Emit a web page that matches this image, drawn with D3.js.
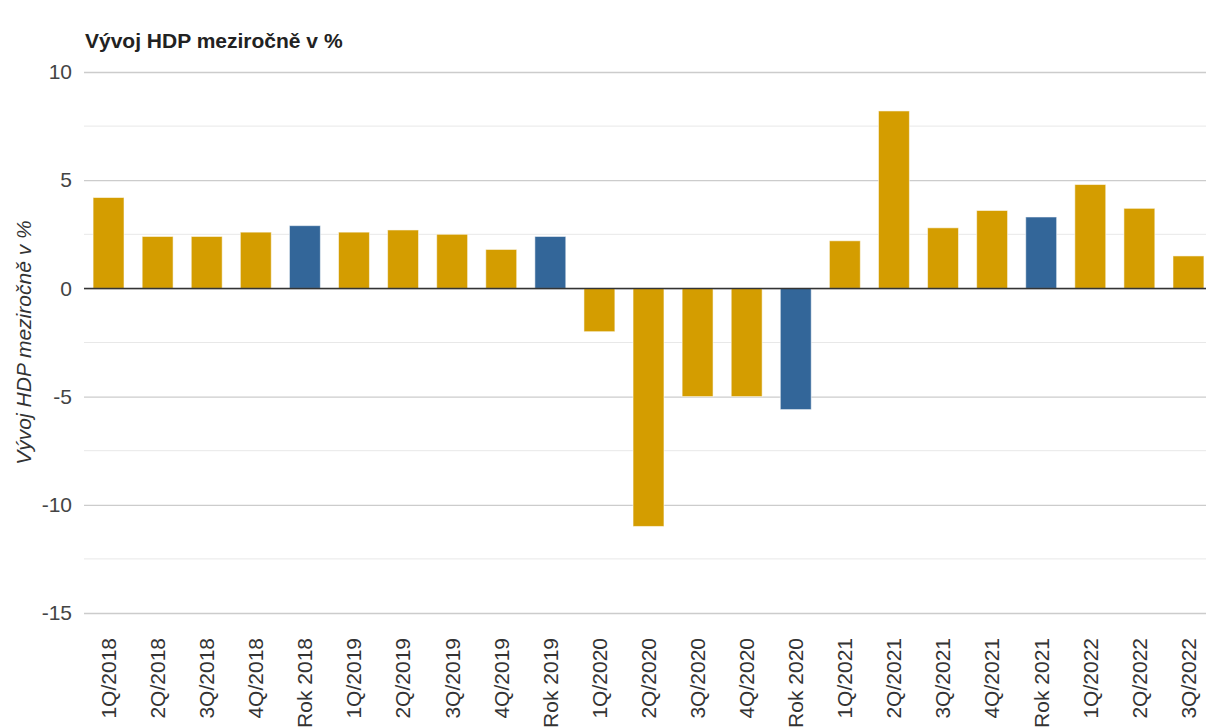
<!DOCTYPE html>
<html>
<head>
<meta charset="utf-8">
<script src="https://cdn.jsdelivr.net/npm/d3@7"></script>
<style>
  body { margin: 0; background: #fff; }
  text { font-family: "Liberation Sans", Arial, sans-serif; }
</style>
</head>
<body>
<div id="chart"></div>
<script>
// data
const categories = ["1Q/2018", "2Q/2018", "3Q/2018", "4Q/2018", "Rok 2018",
    "1Q/2019", "2Q/2019", "3Q/2019", "4Q/2019", "Rok 2019",
    "1Q/2020", "2Q/2020", "3Q/2020", "4Q/2020", "Rok 2020",
    "1Q/2021", "2Q/2021", "3Q/2021", "4Q/2021", "Rok 2021",
    "1Q/2022", "2Q/2022", "3Q/2022"];
const values = [4.2, 2.4, 2.4, 2.6, 2.9,
    2.6, 2.7, 2.5, 1.8, 2.4,
    -2.0, -11.0, -5.0, -5.0, -5.6,
    2.2, 8.2, 2.8, 3.6, 3.3,
    4.8, 3.7, 1.5];
const majorTicks = [10, 5, 0, -5, -10, -15];
const minorTicks = [7.5, 2.5, -2.5, -7.5, -12.5];
const titleText = "Vývoj HDP meziročně v %";

const width = 1206, height = 728;
const margin = {top: 72, left: 84};
const plotBottom = 613;

const svg = d3.select("#chart").append("svg")
    .attr("width", width)
    .attr("height", height);

const x = d3.scaleBand()
    .domain(categories)
    .range([margin.left, 1213])
    .paddingInner(0.37)
    .paddingOuter(0.185);

const y = d3.scaleLinear()
    .domain([-15, 10])
    .range([plotBottom, margin.top]);

// minor grid
svg.append("g").selectAll("line")
    .data(minorTicks)
    .join("line")
    .attr("x1", margin.left).attr("x2", width)
    .attr("y1", d => y(d)).attr("y2", d => y(d))
    .attr("stroke", "#e8e8e8")
    .attr("stroke-width", 1);

// major grid + labels (plain hyphen for negatives, like the original)
const yAxis = d3.axisLeft(y).tickValues(majorTicks)
    .tickFormat(d => String(d))
    .tickSize(0).tickPadding(12);
const yg = svg.append("g")
    .attr("transform", `translate(${margin.left},0)`)
    .call(yAxis);
yg.select(".domain").remove();
yg.selectAll("text")
    .style("font-size", "21px")
    .attr("fill", "#444");
yg.selectAll(".tick").append("line")
    .attr("x1", 0).attr("x2", width - margin.left)
    .attr("stroke", "#cccccc")
    .attr("stroke-width", 1.3);

// bars
const isYear = c => c.startsWith("Rok");
svg.append("g").selectAll("rect")
    .data(categories)
    .join("rect")
    .attr("x", d => x(d))
    .attr("width", x.bandwidth())
    .attr("y", (d, i) => y(Math.max(0, values[i])))
    .attr("height", (d, i) => Math.abs(y(values[i]) - y(0)))
    .attr("fill", d => isYear(d) ? "#336699" : "#d49d00")
    .attr("stroke", "#ffffff")
    .attr("stroke-opacity", 0.55)
    .attr("stroke-width", 1);

// zero line
svg.append("line")
    .attr("x1", margin.left).attr("x2", width)
    .attr("y1", y(0)).attr("y2", y(0))
    .attr("stroke", "#333")
    .attr("stroke-width", 1.5);

// x labels, rotated
svg.append("g").selectAll("text")
    .data(categories)
    .join("text")
    .attr("transform", d => `translate(${x(d) + x.bandwidth() / 2},638) rotate(-90)`)
    .attr("dy", "0.35em")
    .attr("text-anchor", "end")
    .style("font-size", "21px")
    .attr("fill", "#333")
    .text(d => d);

// title
svg.append("text")
    .attr("x", margin.left + 1)
    .attr("y", 48)
    .style("font-size", "21px")
    .style("font-weight", "bold")
    .attr("fill", "#222")
    .text(titleText);

// y axis title
svg.append("text")
    .attr("transform", `translate(24,${(margin.top + plotBottom) / 2}) rotate(-90)`)
    .attr("dy", "0.35em")
    .attr("text-anchor", "middle")
    .style("font-size", "21px")
    .style("font-style", "italic")
    .attr("fill", "#333")
    .text(titleText);
</script>
</body>
</html>
